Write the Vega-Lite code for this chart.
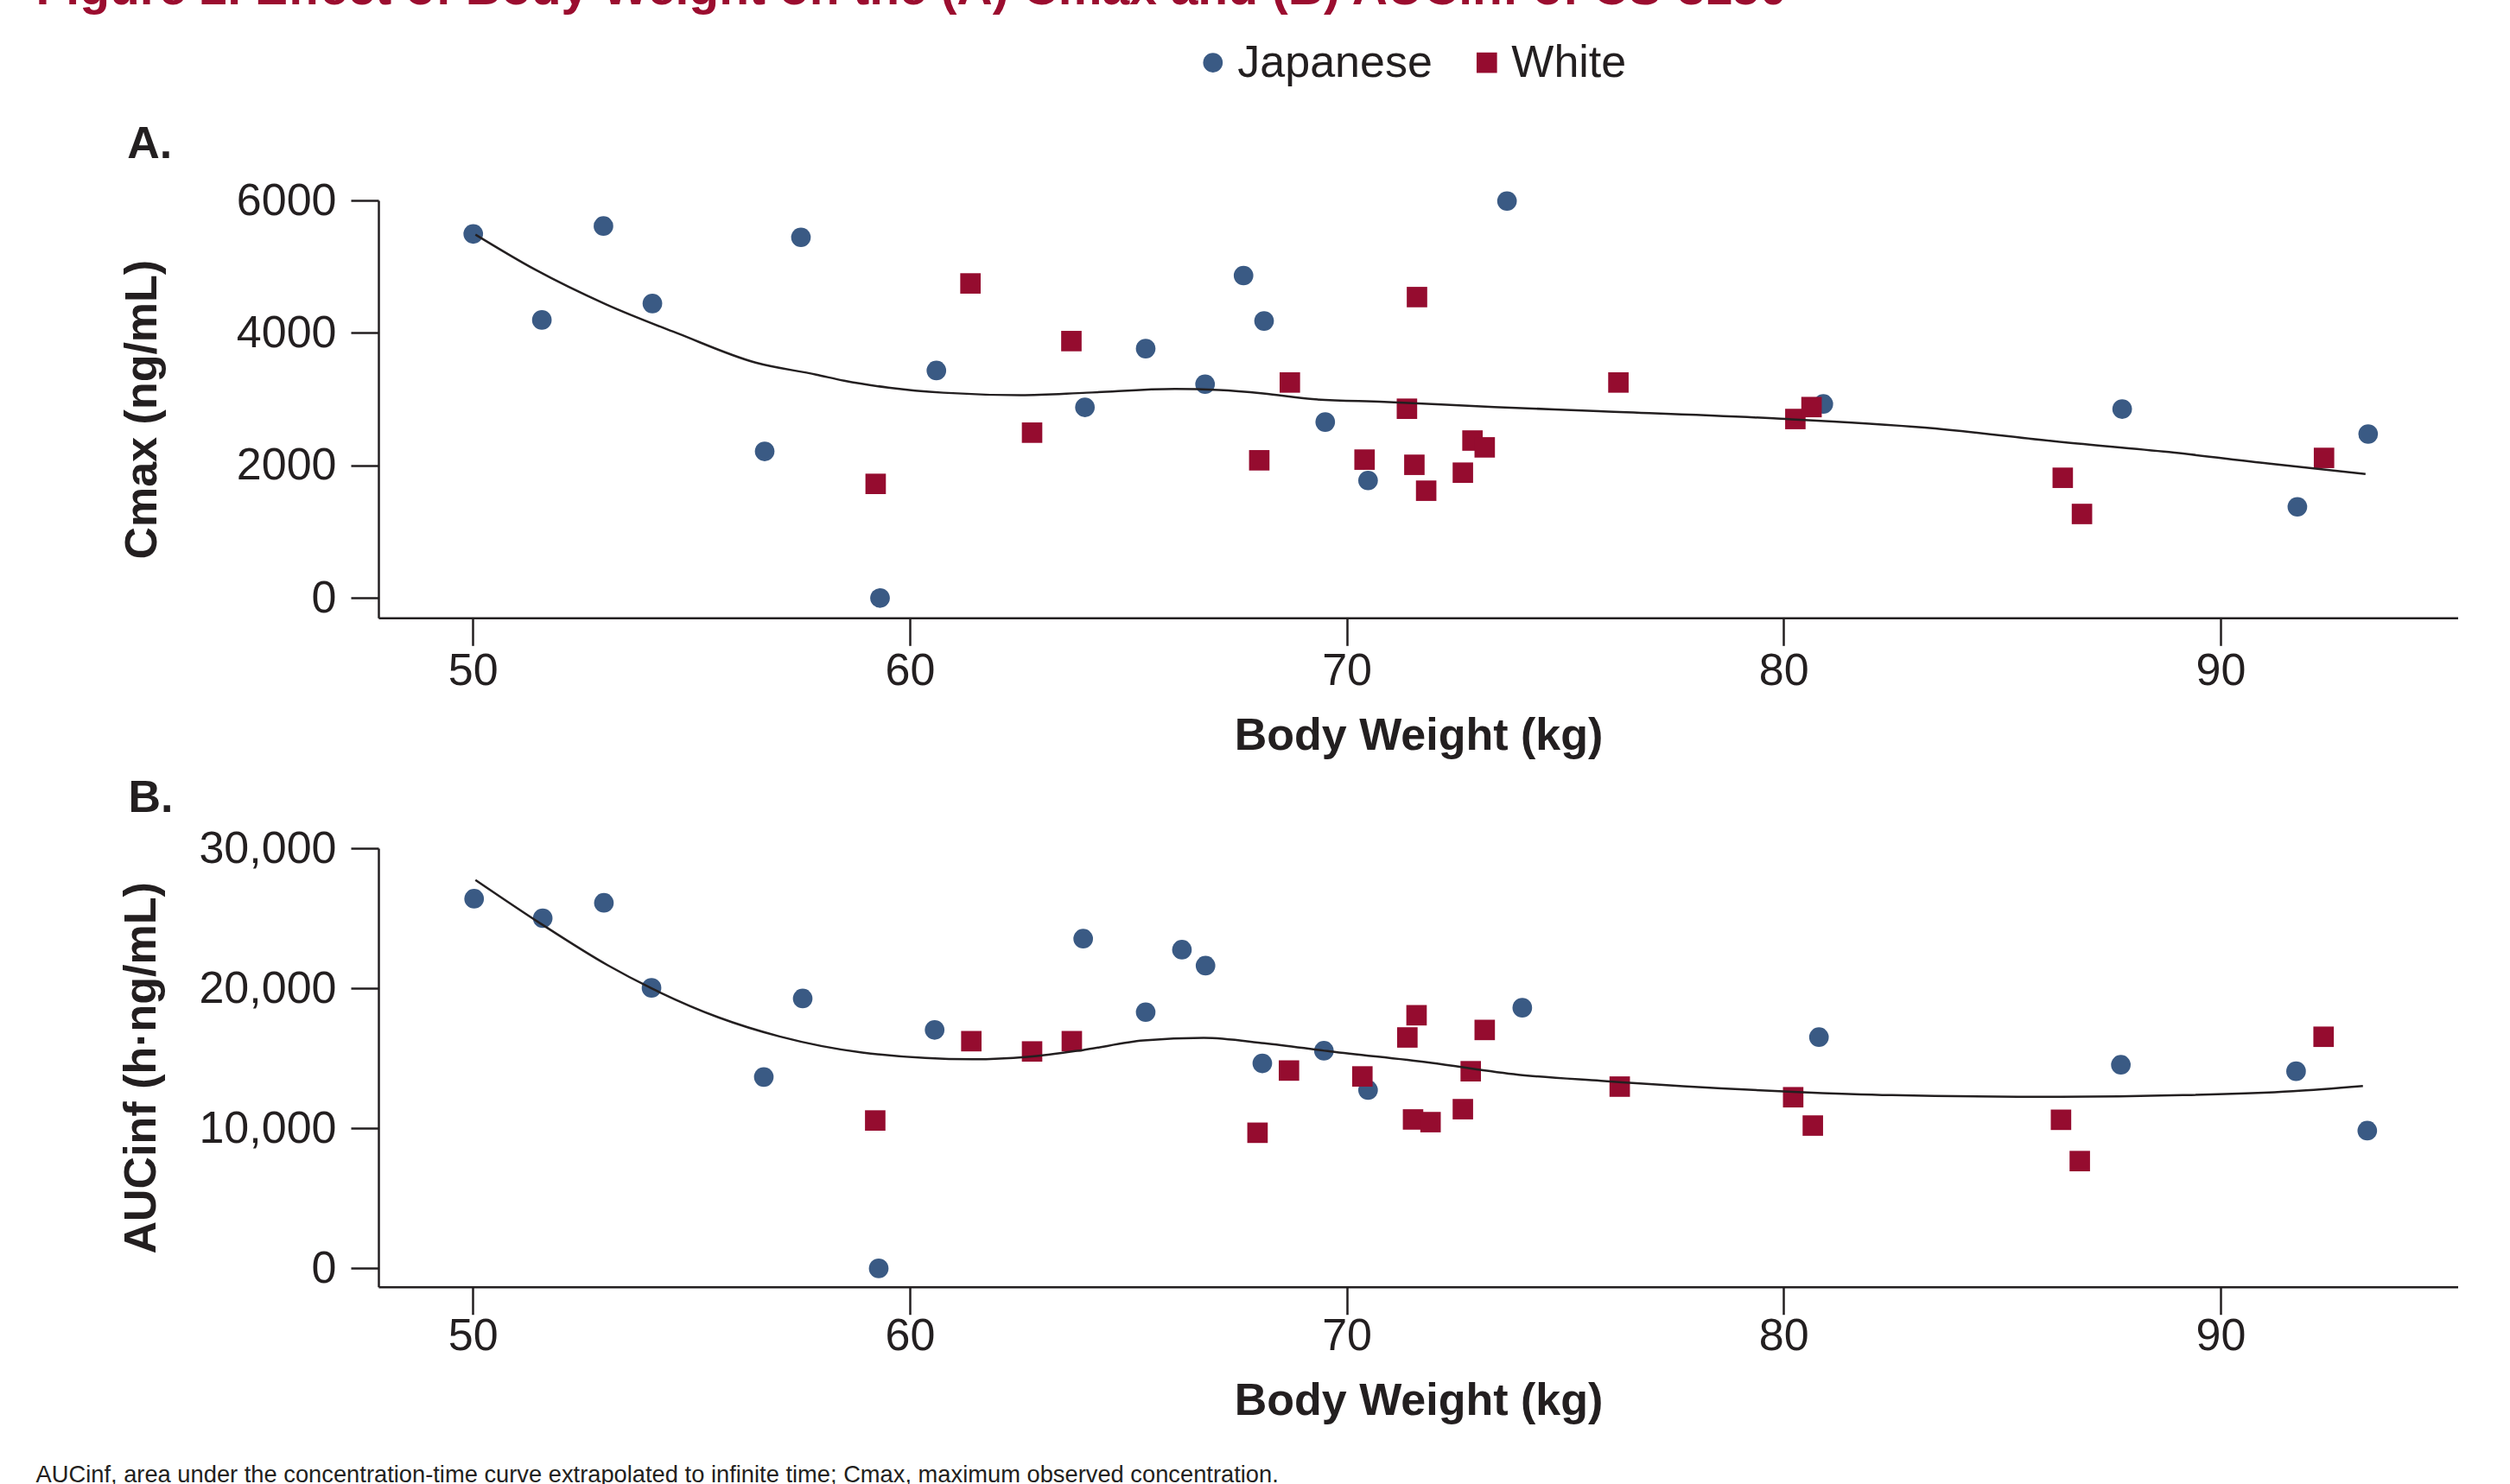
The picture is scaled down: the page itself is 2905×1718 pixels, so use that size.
{
  "$schema": "https://vega.github.io/schema/vega-lite/v6.json",
  "padding": {"left": 41, "top": -42, "right": 0, "bottom": 0},
  "background": "white",
  "title": {
    "text": "Figure 2. Effect of Body Weight on the (A) Cmax and (B) AUCinf of CS-3150",
    "anchor": "start", "frame": "bounds", "orient": "top", "offset": 30,
    "fontSize": 57, "fontWeight": "bold", "color": "#9b0d2f", "font": "Liberation Sans"
  },
  "datasets": {
    "cmax": [
      {"race": "Japanese", "weight": 50.01, "value": 5494},
      {"race": "Japanese", "weight": 51.58, "value": 4196},
      {"race": "Japanese", "weight": 52.99, "value": 5613},
      {"race": "Japanese", "weight": 54.11, "value": 4444},
      {"race": "Japanese", "weight": 56.68, "value": 2212},
      {"race": "Japanese", "weight": 57.51, "value": 5443},
      {"race": "Japanese", "weight": 59.32, "value": 0},
      {"race": "Japanese", "weight": 60.61, "value": 3433},
      {"race": "Japanese", "weight": 64.01, "value": 2877},
      {"race": "Japanese", "weight": 65.40, "value": 3763},
      {"race": "Japanese", "weight": 66.76, "value": 3227},
      {"race": "Japanese", "weight": 67.64, "value": 4866},
      {"race": "Japanese", "weight": 68.11, "value": 4180},
      {"race": "Japanese", "weight": 69.51, "value": 2655},
      {"race": "Japanese", "weight": 70.49, "value": 1773},
      {"race": "Japanese", "weight": 73.67, "value": 5990},
      {"race": "Japanese", "weight": 80.91, "value": 2928},
      {"race": "Japanese", "weight": 87.75, "value": 2851},
      {"race": "Japanese", "weight": 91.76, "value": 1376},
      {"race": "Japanese", "weight": 93.38, "value": 2474},
      {"race": "White", "weight": 59.22, "value": 1722},
      {"race": "White", "weight": 61.39, "value": 4747},
      {"race": "White", "weight": 62.80, "value": 2495},
      {"race": "White", "weight": 63.70, "value": 3877},
      {"race": "White", "weight": 68.00, "value": 2078},
      {"race": "White", "weight": 68.70, "value": 3252},
      {"race": "White", "weight": 70.41, "value": 2088},
      {"race": "White", "weight": 71.38, "value": 2856},
      {"race": "White", "weight": 71.61, "value": 4541},
      {"race": "White", "weight": 71.55, "value": 2010},
      {"race": "White", "weight": 71.82, "value": 1619},
      {"race": "White", "weight": 72.66, "value": 1891},
      {"race": "White", "weight": 72.88, "value": 2376},
      {"race": "White", "weight": 73.16, "value": 2273},
      {"race": "White", "weight": 76.22, "value": 3252},
      {"race": "White", "weight": 80.27, "value": 2701},
      {"race": "White", "weight": 80.64, "value": 2881},
      {"race": "White", "weight": 86.39, "value": 1814},
      {"race": "White", "weight": 86.83, "value": 1268},
      {"race": "White", "weight": 92.37, "value": 2114}
    ],
    "auc": [
      {"race": "Japanese", "weight": 50.03, "value": 26397},
      {"race": "Japanese", "weight": 51.60, "value": 25003},
      {"race": "Japanese", "weight": 53.00, "value": 26101},
      {"race": "Japanese", "weight": 54.09, "value": 20031},
      {"race": "Japanese", "weight": 56.66, "value": 13664},
      {"race": "Japanese", "weight": 57.55, "value": 19272},
      {"race": "Japanese", "weight": 59.29, "value": 0},
      {"race": "Japanese", "weight": 60.57, "value": 17026},
      {"race": "Japanese", "weight": 63.97, "value": 23541},
      {"race": "Japanese", "weight": 65.40, "value": 18297},
      {"race": "Japanese", "weight": 66.23, "value": 22757},
      {"race": "Japanese", "weight": 66.77, "value": 21616},
      {"race": "Japanese", "weight": 68.07, "value": 14639},
      {"race": "Japanese", "weight": 69.48, "value": 15540},
      {"race": "Japanese", "weight": 70.49, "value": 12733},
      {"race": "Japanese", "weight": 74.02, "value": 18612},
      {"race": "Japanese", "weight": 80.81, "value": 16514},
      {"race": "Japanese", "weight": 87.72, "value": 14540},
      {"race": "Japanese", "weight": 91.73, "value": 14078},
      {"race": "Japanese", "weight": 93.36, "value": 9833},
      {"race": "White", "weight": 59.21, "value": 10561},
      {"race": "White", "weight": 61.41, "value": 16224},
      {"race": "White", "weight": 62.80, "value": 15490},
      {"race": "White", "weight": 63.71, "value": 16224},
      {"race": "White", "weight": 67.96, "value": 9685},
      {"race": "White", "weight": 68.68, "value": 14127},
      {"race": "White", "weight": 70.36, "value": 13707},
      {"race": "White", "weight": 71.39, "value": 16490},
      {"race": "White", "weight": 71.52, "value": 10635},
      {"race": "White", "weight": 71.60, "value": 18075},
      {"race": "White", "weight": 71.92, "value": 10444},
      {"race": "White", "weight": 72.66, "value": 11369},
      {"race": "White", "weight": 72.84, "value": 14078},
      {"race": "White", "weight": 73.16, "value": 17026},
      {"race": "White", "weight": 76.25, "value": 12980},
      {"race": "White", "weight": 80.22, "value": 12221},
      {"race": "White", "weight": 80.67, "value": 10198},
      {"race": "White", "weight": 86.35, "value": 10611},
      {"race": "White", "weight": 86.78, "value": 7662},
      {"race": "White", "weight": 92.36, "value": 16539}
    ],
    "fitA": [
      {"weight": 50.06, "value": 5484}, {"weight": 51.42, "value": 4958},
      {"weight": 53.06, "value": 4428}, {"weight": 54.70, "value": 3990},
      {"weight": 56.47, "value": 3552}, {"weight": 57.86, "value": 3371},
      {"weight": 58.50, "value": 3278}, {"weight": 59.51, "value": 3175},
      {"weight": 60.77, "value": 3098}, {"weight": 62.54, "value": 3062},
      {"weight": 64.05, "value": 3098}, {"weight": 66.07, "value": 3154},
      {"weight": 67.08, "value": 3139}, {"weight": 68.09, "value": 3088},
      {"weight": 69.22, "value": 3001}, {"weight": 70.86, "value": 2959},
      {"weight": 73.38, "value": 2882}, {"weight": 75.77, "value": 2820},
      {"weight": 79.77, "value": 2711}, {"weight": 83.23, "value": 2572},
      {"weight": 86.42, "value": 2350}, {"weight": 88.82, "value": 2202},
      {"weight": 91.08, "value": 2031}, {"weight": 93.32, "value": 1872}
    ],
    "fitB": [
      {"weight": 50.06, "value": 27736}, {"weight": 51.58, "value": 24565},
      {"weight": 53.09, "value": 21641}, {"weight": 54.10, "value": 19981},
      {"weight": 55.62, "value": 17927}, {"weight": 57.02, "value": 16564},
      {"weight": 58.91, "value": 15417}, {"weight": 61.44, "value": 14929},
      {"weight": 62.70, "value": 15102}, {"weight": 63.96, "value": 15589},
      {"weight": 65.35, "value": 16274}, {"weight": 66.73, "value": 16465},
      {"weight": 68.12, "value": 16076}, {"weight": 69.63, "value": 15490},
      {"weight": 71.91, "value": 14688}, {"weight": 73.93, "value": 13831},
      {"weight": 75.82, "value": 13393}, {"weight": 80.21, "value": 12609},
      {"weight": 82.48, "value": 12369}, {"weight": 86.34, "value": 12246},
      {"weight": 89.14, "value": 12369}, {"weight": 91.66, "value": 12659},
      {"weight": 93.26, "value": 13029}
    ]
  },
  "spacing": 20,
  "resolve": {"scale": {"y": "independent", "x": "independent"}},
  "vconcat": [
    {
      "width": 2407, "height": 483.3,
      "title": {"text": "A.", "anchor": "start", "frame": "bounds", "dx": 9, "offset": 12, "fontSize": 52, "fontWeight": "bold", "color": "#231f20"},
      "layer": [
        {
          "data": {"name": "cmax"},
          "mark": {"type": "point", "filled": true, "opacity": 1},
          "encoding": {
            "x": {"field": "weight", "type": "quantitative", "scale": {"domain": [47.84, 95.44], "nice": false, "zero": false},
                  "axis": {"values": [50, 60, 70, 80, 90], "title": "Body Weight (kg)", "labelPadding": 4, "titlePadding": 24}},
            "y": {"field": "value", "type": "quantitative", "scale": {"domain": [-300, 6000], "nice": false, "zero": false},
                  "axis": {"values": [0, 2000, 4000, 6000], "format": "d", "title": "Cmax (ng/mL)", "labelPadding": 17, "titlePadding": 82}},
            "color": {"field": "race", "type": "nominal", "scale": {"domain": ["Japanese", "White"], "range": ["#3a5a84", "#950c2f"]},
                      "legend": {"orient": "none", "legendX": 939.8, "legendY": -185.4, "direction": "horizontal", "title": null}},
            "shape": {"field": "race", "type": "nominal", "scale": {"domain": ["Japanese", "White"], "range": ["circle", "square"]},
                      "legend": {"orient": "none", "legendX": 939.8, "legendY": -185.4, "direction": "horizontal", "title": null}},
            "size": {"field": "race", "type": "ordinal", "scale": {"domain": ["Japanese", "White"], "range": [515, 560]}, "legend": null}
          }
        },
        {
          "data": {"name": "fitA"},
          "mark": {"type": "line", "color": "#231f20", "strokeWidth": 2.5, "interpolate": "monotone"},
          "encoding": {
            "x": {"field": "weight", "type": "quantitative"},
            "y": {"field": "value", "type": "quantitative"}
          }
        }
      ]
    },
    {
      "width": 2407, "height": 507.7,
      "title": {"text": "B.", "anchor": "start", "frame": "bounds", "dx": 11, "offset": 5, "fontSize": 52, "fontWeight": "bold", "color": "#231f20"},
      "layer": [
        {
          "data": {"name": "auc"},
          "mark": {"type": "point", "filled": true, "opacity": 1},
          "encoding": {
            "x": {"field": "weight", "type": "quantitative", "scale": {"domain": [47.84, 95.44], "nice": false, "zero": false},
                  "axis": {"values": [50, 60, 70, 80, 90], "title": "Body Weight (kg)", "labelPadding": 0, "titlePadding": 24}},
            "y": {"field": "value", "type": "quantitative", "scale": {"domain": [-1314, 30000], "nice": false, "zero": false},
                  "axis": {"values": [0, 10000, 20000, 30000], "format": ",.0f", "title": "AUCinf (h·ng/mL)", "labelPadding": 17, "titlePadding": 47.5}},
            "color": {"field": "race", "type": "nominal", "scale": {"domain": ["Japanese", "White"], "range": ["#3a5a84", "#950c2f"]},
                      "legend": {"orient": "none", "legendX": 939.8, "legendY": -185.4, "direction": "horizontal", "title": null}},
            "shape": {"field": "race", "type": "nominal", "scale": {"domain": ["Japanese", "White"], "range": ["circle", "square"]},
                      "legend": {"orient": "none", "legendX": 939.8, "legendY": -185.4, "direction": "horizontal", "title": null}},
            "size": {"field": "race", "type": "ordinal", "scale": {"domain": ["Japanese", "White"], "range": [515, 560]}, "legend": null}
          }
        },
        {
          "data": {"name": "fitB"},
          "mark": {"type": "line", "color": "#231f20", "strokeWidth": 2.5, "interpolate": "monotone"},
          "encoding": {
            "x": {"field": "weight", "type": "quantitative"},
            "y": {"field": "value", "type": "quantitative"}
          }
        }
      ]
    },
    {
      "width": 2407, "height": 10,
      "data": {"values": [{"t": ""}]},
      "mark": {"type": "text"},
      "encoding": {"text": {"field": "t", "type": "nominal"}},
      "title": {"text": "AUCinf, area under the concentration-time curve extrapolated to infinite time; Cmax, maximum observed concentration.",
                "orient": "bottom", "anchor": "start", "frame": "group", "dx": -396.5, "offset": 14.5,
                "fontSize": 27.3, "fontWeight": "normal", "color": "#231f20"}
    }
  ],
  "config": {
    "font": "Liberation Sans",
    "view": {"stroke": null},
    "axis": {
      "domainColor": "#231f20", "domainWidth": 2.5, "tickColor": "#231f20", "tickWidth": 2.5, "tickSize": 32,
      "labelFontSize": 52, "labelFont": "Liberation Sans", "labelColor": "#231f20",
      "titleFontSize": 52, "titleFont": "Liberation Sans", "titleFontWeight": "bold", "titleColor": "#231f20",
      "grid": false, "labelOverlap": false, "labelFlush": false
    },
    "legend": {
      "labelFontSize": 52, "labelFont": "Liberation Sans", "labelColor": "#231f20",
      "symbolSize": 540, "labelOffset": 2.5, "columnPadding": 36, "symbolStrokeWidth": 0, "padding": 0, "labelLimit": 0
    }
  }
}
